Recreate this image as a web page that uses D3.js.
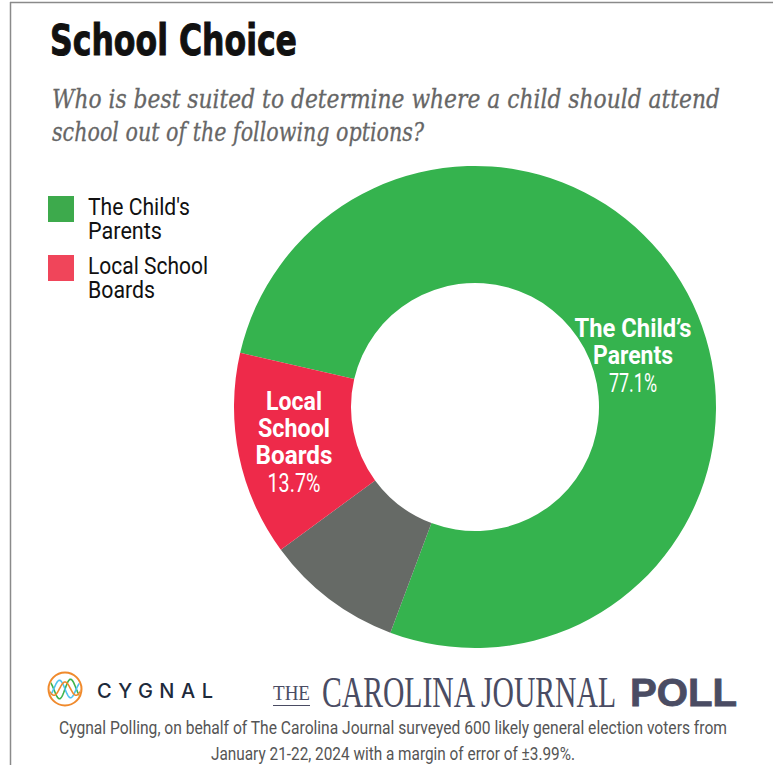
<!DOCTYPE html>
<html>
<head>
<meta charset="utf-8">
<script src="https://cdn.jsdelivr.net/npm/d3@7"></script>
<style>
  html, body { margin: 0; padding: 0; background: #fff; }
  svg { display: block; }
</style>
</head>
<body>
<svg id="chart" width="773" height="765"></svg>
<script>
// Poll responses (percent of likely voters)
const categories = ["The Child's Parents", "Other / Unsure", "Local School Boards"];
const values = [77.1, 9.2, 13.7];
const colors = ["#35b34e", "#666a66", "#ee2a4a"];
const sliceLabels = [["The Child\u2019s", "Parents"], null, ["Local", "School", "Boards"]];
const legendItems = [["The Child's", "Parents"], ["Local School", "Boards"]];
const legendColors = ["#3daa4c", "#f0455a"];

const svg = d3.select("#chart");
const narrow = "Roboto, 'Liberation Sans', sans-serif";

// squeeze a text element horizontally to a given width
function fit(sel, w) {
  return sel.attr("textLength", w).attr("lengthAdjust", "spacingAndGlyphs");
}

// frame
svg.append("line").attr("x1", 10).attr("x2", 773).attr("y1", 2.5).attr("y2", 2.5)
  .attr("stroke", "#8a8a8a").attr("stroke-width", 1.5);
svg.append("line").attr("x1", 10.5).attr("x2", 10.5).attr("y1", 2).attr("y2", 765)
  .attr("stroke", "#8a8a8a").attr("stroke-width", 1.5);

// title + subtitle
fit(svg.append("text").attr("x", 50).attr("y", 55)
  .attr("font-family", "'DejaVu Sans', sans-serif").attr("font-weight", 700).attr("font-size", 42)
  .attr("fill", "#111").attr("stroke", "#111").attr("stroke-width", 1)
  .text("School Choice"), 247);

const sub = ["Who is best suited to determine where a child should attend",
             "school out of the following options?"];
const subW = [668, 372];
sub.forEach((s, i) => {
  fit(svg.append("text").attr("x", 52).attr("y", 108 + i * 33)
    .attr("font-family", "'DejaVu Serif', 'Liberation Serif', serif")
    .attr("font-style", "italic").attr("font-size", 26).attr("fill", "#666")
    .attr("stroke", "#666").attr("stroke-width", 0.3)
    .text(s), subW[i]);
});

// legend
const legendW = [[102, 74], [120, 67]];
legendItems.forEach((lines, i) => {
  const y0 = 196 + i * 59;
  svg.append("rect").attr("x", 48).attr("y", y0).attr("width", 26).attr("height", 26)
    .attr("fill", legendColors[i]);
  lines.forEach((t, j) => {
    fit(svg.append("text").attr("x", 88).attr("y", y0 + 19 + j * 24)
      .attr("font-family", narrow).attr("font-size", 24).attr("fill", "#111")
      .text(t), legendW[i][j]);
  });
});

// donut
const cx = 475, cy = 407, rOuter = 241, rInner = 124;
const start = -77 * Math.PI / 180;
const pie = d3.pie().sort(null).startAngle(start).endAngle(start + 2 * Math.PI);
const arcs = pie(values);
const arc = d3.arc().innerRadius(rInner).outerRadius(rOuter);
const g = svg.append("g").attr("transform", `translate(${cx},${cy})`);
g.selectAll("path").data(arcs).join("path")
  .attr("d", arc).attr("fill", (d, i) => colors[i]);

// slice labels
const labelPos = [[158, -70], null, [-181, 3]];
const labelW = [[117, 80, 48], null, [56, 72, 77, 53]];
arcs.forEach((d, i) => {
  if (!sliceLabels[i]) return;
  const [lx, ly] = labelPos[i];
  const lines = sliceLabels[i];
  lines.forEach((s, j) => {
    fit(g.append("text").attr("text-anchor", "middle").attr("x", lx).attr("y", ly + j * 27)
      .attr("font-family", narrow).attr("fill", "#fff")
      .attr("font-weight", 700).attr("font-size", 25).text(s), labelW[i][j]);
  });
  fit(g.append("text").attr("text-anchor", "middle").attr("x", lx).attr("y", ly + lines.length * 27 + 1)
    .attr("font-family", narrow).attr("fill", "#fff")
    .attr("font-size", 25).text(d3.format(".1f")(values[i]) + "%"), labelW[i][lines.length]);
});

// Cygnal mark
const logo = svg.append("g").attr("transform", "translate(65,689)");
logo.append("clipPath").attr("id", "lc").append("circle").attr("r", 15.5);
const waves = [["#3db34a", 0, 1.0], ["#4fc3f0", Math.PI, 0.9], ["#f08a2c", Math.PI / 2, 0.7]];
const wl = d3.line();
waves.forEach(([c, ph, a]) => {
  const pts = d3.range(-17, 17.5, 0.5).map(x => [x, -Math.sin(x / 3.6 + ph) * 10 * a * Math.cos(x / 24)]);
  logo.append("path").attr("d", wl(pts)).attr("fill", "none").attr("stroke", c)
    .attr("stroke-width", 1.6).attr("clip-path", "url(#lc)");
});
logo.append("circle").attr("r", 16.5).attr("fill", "none").attr("stroke", "#f08a2c").attr("stroke-width", 2);
svg.append("text").attr("x", 97).attr("y", 698)
  .attr("font-family", "Inter, 'Open Sans', sans-serif").attr("font-weight", 500).attr("font-size", 20)
  .attr("fill", "#1d2a3b").attr("textLength", 116).attr("lengthAdjust", "spacing")
  .text("CYGNAL");

// Carolina Journal Poll wordmark
const cj = "#4a4c63";
fit(svg.append("text").attr("x", 273).attr("y", 700)
  .attr("font-family", "'Liberation Serif', serif").attr("font-size", 22).attr("fill", cj)
  .text("THE"), 37);
svg.append("line").attr("x1", 273).attr("x2", 310).attr("y1", 705.5).attr("y2", 705.5)
  .attr("stroke", cj).attr("stroke-width", 1.2);
fit(svg.append("text").attr("x", 322).attr("y", 707)
  .attr("font-family", "'Liberation Serif', serif").attr("font-size", 44).attr("fill", cj)
  .text("CAROLINA JOURNAL"), 294);
fit(svg.append("text").attr("x", 630).attr("y", 706)
  .attr("font-family", "'Liberation Sans', 'DejaVu Sans', sans-serif").attr("font-weight", 700)
  .attr("font-size", 38).attr("fill", cj).attr("stroke", cj).attr("stroke-width", 0.8)
  .text("POLL"), 107);

// footnote
const foot = ["Cygnal Polling, on behalf of The Carolina Journal surveyed 600  likely general election voters from",
              "January 21-22, 2024 with a margin of error of \u00b13.99%."];
const footW = [668, 364];
foot.forEach((s, i) => {
  fit(svg.append("text").attr("x", 393).attr("y", 734 + i * 26).attr("text-anchor", "middle")
    .attr("font-family", narrow).attr("font-size", 18).attr("fill", "#555")
    .text(s), footW[i]);
});
</script>
</body>
</html>
